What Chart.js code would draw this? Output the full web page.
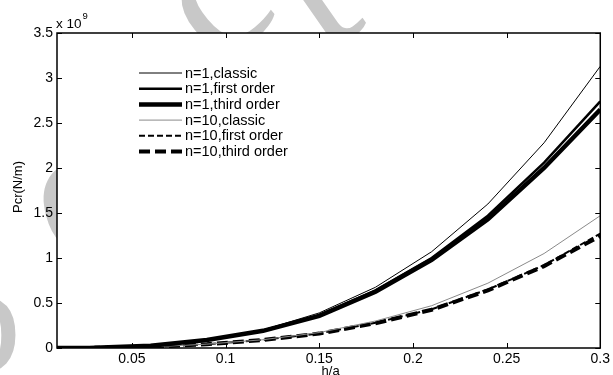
<!DOCTYPE html>
<html>
<head>
<meta charset="utf-8">
<script src="https://cdn.jsdelivr.net/npm/chart.js@4.4.0/dist/chart.umd.min.js"></script>
<style>
  html, body { margin: 0; padding: 0; background: #fff; }
  #wrap { width: 613px; height: 375px; position: relative; }
</style>
</head>
<body>
<div id="wrap"><canvas id="c" width="613" height="375"></canvas></div>
<script>
// Thickness-to-side ratio h/a
const ratioHA = [0.01, 0.03, 0.06, 0.09, 0.12, 0.15, 0.18, 0.21, 0.24, 0.27, 0.30];

// Critical buckling load Pcr, in units of 10^9 N/m
const n1Classic = [0.0001, 0.003, 0.025, 0.090, 0.200, 0.390, 0.675, 1.070, 1.600, 2.280, 3.130];
const n1First   = [0.0001, 0.003, 0.025, 0.089, 0.194, 0.365, 0.640, 1.000, 1.470, 2.060, 2.740];
const n1Third   = [0.0001, 0.003, 0.025, 0.088, 0.191, 0.357, 0.625, 0.980, 1.430, 2.000, 2.650];
const n10Classic = [0.0, 0.0015, 0.011, 0.043, 0.092, 0.172, 0.300, 0.470, 0.720, 1.050, 1.470];
const n10First   = [0.0, 0.0015, 0.011, 0.042, 0.090, 0.162, 0.280, 0.430, 0.650, 0.920, 1.270];
const n10Third   = [0.0, 0.0015, 0.011, 0.042, 0.089, 0.160, 0.275, 0.425, 0.640, 0.910, 1.245];

const seriesLabels = [
  'n=1,classic', 'n=1,first order', 'n=1,third order',
  'n=10,classic', 'n=10,first order', 'n=10,third order'
];

const xTicks = [0.05, 0.1, 0.15, 0.2, 0.25, 0.3];
const yTicks = [0, 0.5, 1, 1.5, 2, 2.5, 3, 3.5];

const FONT = '"Liberation Sans", Arial, sans-serif';

function pts(ys) { return ratioHA.map((x, i) => ({ x: x, y: ys[i] })); }

const styles = [
  { color: '#000', width: 1,   dash: [] },
  { color: '#000', width: 2.5, dash: [] },
  { color: '#000', width: 4.5, dash: [] },
  { color: '#8a8a8a', width: 1, dash: [] },
  { color: '#000', width: 2,   dash: [6, 3] },
  { color: '#000', width: 4,   dash: [11, 5] }
];
const allSeries = [n1Classic, n1First, n1Third, n10Classic, n10First, n10Third];

const datasets = allSeries.map((ys, i) => ({
  label: seriesLabels[i],
  data: pts(ys),
  borderColor: styles[i].color,
  borderWidth: styles[i].width,
  borderDash: styles[i].dash,
  pointRadius: 0,
  fill: false,
  tension: 0
}));

// faint watermark glyphs in the margins, covered inside the plot area
const backdrop = {
  id: 'backdrop',
  beforeDraw(chart) {
    const ctx = chart.ctx, a = chart.chartArea;
    ctx.save();
    ctx.fillStyle = '#fff';
    ctx.fillRect(0, 0, chart.width, chart.height);
    ctx.fillStyle = '#c8c8c8';
    const glyph = (ch, cx, cy, deg, size) => {
      ctx.save();
      ctx.translate(cx, cy);
      ctx.rotate(deg * Math.PI / 180);
      ctx.font = size + 'px "Liberation Serif", serif';
      ctx.textBaseline = 'alphabetic';
      const w = ctx.measureText(ch).width;
      ctx.fillText(ch, -w / 2, size * 0.23);
      ctx.restore();
    };
    glyph('c', -14, 335, 180, 160);
    glyph('c', 80, 207, -15, 190);
    glyph('c', 222, 8, -40, 190);
    glyph('t', 322, 4, -35, 190);
    ctx.restore();
    ctx.save();
    ctx.fillStyle = '#fff';
    ctx.fillRect(a.left, a.top, a.right - a.left, a.bottom - a.top);
    ctx.restore();
  }
};

// axes box with inward ticks on all four sides, axis titles, exponent, legend
const frame = {
  id: 'frame',
  afterDraw(chart) {
    const ctx = chart.ctx, a = chart.chartArea;
    const xs = chart.scales.x, ys = chart.scales.y;
    ctx.save();
    ctx.strokeStyle = '#000';
    ctx.lineWidth = 1.5;
    ctx.setLineDash([]);
    ctx.strokeRect(a.left, a.top, a.right - a.left, a.bottom - a.top);
    ctx.lineWidth = 1;
    const tl = 5;
    ctx.beginPath();
    xTicks.forEach(v => {
      const px = Math.round(xs.getPixelForValue(v)) + 0.5;
      ctx.moveTo(px, a.bottom); ctx.lineTo(px, a.bottom - tl);
      ctx.moveTo(px, a.top); ctx.lineTo(px, a.top + tl);
    });
    yTicks.forEach(v => {
      const py = Math.round(ys.getPixelForValue(v)) + 0.5;
      ctx.moveTo(a.left, py); ctx.lineTo(a.left + tl, py);
      ctx.moveTo(a.right, py); ctx.lineTo(a.right - tl, py);
    });
    ctx.stroke();

    // exponent label
    ctx.fillStyle = '#000';
    ctx.textAlign = 'left';
    ctx.textBaseline = 'alphabetic';
    ctx.font = '13.5px ' + FONT;
    ctx.fillText('x 10', a.left - 1, 28);
    const w = ctx.measureText('x 10').width;
    ctx.font = '9.5px ' + FONT;
    ctx.fillText('9', a.left - 1 + w + 1, 19);

    // axis titles
    ctx.font = '13px ' + FONT;
    ctx.textAlign = 'center';
    ctx.textBaseline = 'top';
    ctx.fillText('h/a', (a.left + a.right) / 2 + 2, 365);
    ctx.save();
    ctx.translate(18, 187);
    ctx.rotate(-Math.PI / 2);
    ctx.textBaseline = 'middle';
    ctx.fillText('Pcr(N/m)', 0, 0);
    ctx.restore();

    // legend
    const lx0 = 139, lx1 = 182, tx = 185, ry0 = 73, dy = 15.7;
    ctx.font = '14.5px ' + FONT;
    ctx.textAlign = 'left';
    ctx.textBaseline = 'middle';
    chart.data.datasets.forEach((ds, i) => {
      const y = ry0 + i * dy;
      ctx.strokeStyle = ds.borderColor;
      ctx.lineWidth = ds.borderWidth;
      ctx.setLineDash(ds.borderDash || []);
      ctx.beginPath();
      ctx.moveTo(lx0, y); ctx.lineTo(lx1, y);
      ctx.stroke();
      ctx.setLineDash([]);
      ctx.fillStyle = '#000';
      ctx.fillText(ds.label, tx, y + 0.5);
    });
    ctx.restore();
  }
};

new Chart(document.getElementById('c'), {
  type: 'line',
  data: { datasets: datasets },
  options: {
    responsive: false,
    animation: false,
    events: [],
    layout: { padding: { left: 0, top: 33, right: 8, bottom: 0 } },
    plugins: { legend: { display: false }, tooltip: { enabled: false } },
    scales: {
      x: {
        type: 'linear', min: 0.01, max: 0.3,
        afterBuildTicks: s => { s.ticks = xTicks.map(v => ({ value: v })); },
        afterFit: s => { s.height = 27; },
        grid: { display: false, drawTicks: false },
        border: { display: false },
        ticks: {
          color: '#000', padding: 3, maxRotation: 0, autoSkip: false,
          font: { family: FONT, size: 14 },
          callback: v => String(v)
        }
      },
      y: {
        type: 'linear', min: 0, max: 3.5,
        afterBuildTicks: s => { s.ticks = yTicks.map(v => ({ value: v })); },
        afterFit: s => { s.width = 57; },
        grid: { display: false, drawTicks: false },
        border: { display: false },
        ticks: {
          color: '#000', padding: 4, autoSkip: false,
          font: { family: FONT, size: 14 },
          callback: v => String(v)
        }
      }
    }
  },
  plugins: [backdrop, frame]
});
</script>
</body>
</html>
